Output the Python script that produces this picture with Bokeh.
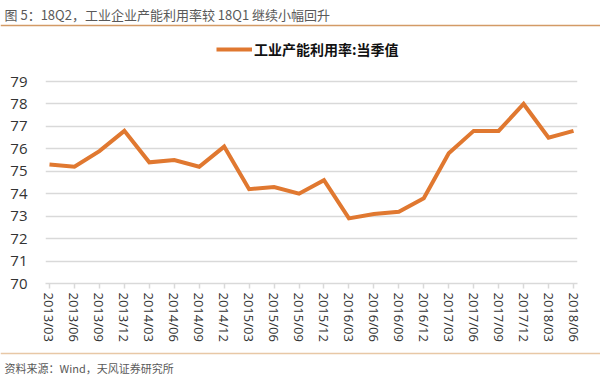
from bokeh.plotting import figure
from bokeh.layouts import column
from bokeh.models import (Label, BoxAnnotation, FixedTicker, Legend, LegendItem,
                          Range1d)
from bokeh.embed import file_html
from bokeh.resources import INLINE

# ---- data ----
quarters = ["2013/03", "2013/06", "2013/09", "2013/12",
            "2014/03", "2014/06", "2014/09", "2014/12",
            "2015/03", "2015/06", "2015/09", "2015/12",
            "2016/03", "2016/06", "2016/09", "2016/12",
            "2017/03", "2017/06", "2017/09", "2017/12",
            "2018/03", "2018/06"]
utilization = [75.3, 75.2, 75.9, 76.8,
               75.4, 75.5, 75.2, 76.1,
               74.2, 74.3, 74.0, 74.6,
               72.9, 73.1, 73.2, 73.8,
               75.8, 76.8, 76.8, 78.0,
               76.5, 76.8]
y_ticks = [70, 71, 72, 73, 74, 75, 76, 77, 78, 79]
series_name = "工业产能利用率:当季值"
title_text = "图 5：18Q2，工业企业产能利用率较 18Q1 继续小幅回升"
source_text = "资料来源：Wind，天风证券研究所"

idx = list(range(len(quarters)))

W = 600
ORANGE = "#E07830"
CJK = "Noto Sans CJK SC"
TEXT_GREY = "#595959"


def banner(height):
    f = figure(width=W, height=height, output_backend="svg", toolbar_location=None,
               x_axis_type=None, y_axis_type=None,
               x_range=Range1d(0, W), y_range=Range1d(0, height),
               min_border=0, min_border_left=0, min_border_right=0,
               min_border_top=0, min_border_bottom=0, frame_align=False,
               background_fill_color="white", border_fill_color="white")
    f.outline_line_color = None
    return f


def hline(f, height, y_from_top, color):
    f.add_layout(BoxAnnotation(left=0, right=W,
                               top=height - y_from_top + 0.75,
                               bottom=height - y_from_top - 0.75,
                               left_units="screen", right_units="screen",
                               top_units="screen", bottom_units="screen",
                               fill_color=color, fill_alpha=1, line_color=None))


# ---- header (page y 0..32) ----
HH = 32
header = banner(HH)
header.add_layout(Label(x=4, y=HH - 14, x_units="screen", y_units="screen",
                        text=title_text, text_font=CJK, text_font_size="13px",
                        text_color=TEXT_GREY, text_baseline="middle"))
hline(header, HH, 25, "#D39A66")

# ---- main chart (page y 32..346) ----
TOP, BOT = 32, 346
FL, FR, FT, FB = 45, 577, 35, 283   # frame edges in page pixels
Y79, Y70 = 81, 283                   # page y of the 79 and 70 gridlines
y_top = 79 + (Y79 - FT) * 9 / (Y70 - Y79)
p = figure(width=W, height=BOT - TOP, output_backend="svg", toolbar_location=None,
           x_range=Range1d(-0.16, len(quarters) - 1 + 0.16),
           y_range=Range1d(70, y_top),
           min_border_left=FL, min_border_right=W - FR,
           min_border_top=FT - TOP, min_border_bottom=BOT - FB,
           frame_align=False,
           background_fill_color="white", border_fill_color="white")
p.outline_line_color = None

r = p.line(idx, utilization, line_color=ORANGE, line_width=4, line_join="miter")

p.xaxis.ticker = FixedTicker(ticks=idx)
p.xaxis.major_label_overrides = {i: q for i, q in enumerate(quarters)}
p.xaxis.major_label_orientation = "vertical"
p.xaxis.axis_line_color = "#D9D9D9"
p.xaxis.axis_line_width = 1.5
p.xaxis.major_tick_line_color = "#D9D9D9"
p.xaxis.major_tick_line_width = 1.5
p.xaxis.major_tick_in = 0
p.xaxis.major_tick_out = 5
p.xaxis.minor_tick_line_color = None
p.xaxis.major_label_standoff = 4
p.xaxis.major_label_text_font = "Open Sans"
p.xaxis.major_label_text_font_size = "13px"
p.xaxis.major_label_text_color = "#333333"

p.yaxis.ticker = FixedTicker(ticks=y_ticks)
p.yaxis.axis_line_color = None
p.yaxis.major_tick_line_color = None
p.yaxis.minor_tick_line_color = None
p.yaxis.major_label_standoff = 12
p.yaxis.major_label_text_font = "Open Sans"
p.yaxis.major_label_text_font_size = "15px"
p.yaxis.major_label_text_color = "#333333"

p.xgrid.grid_line_color = None
p.ygrid.grid_line_color = "#D9D9D9"
p.ygrid.grid_line_width = 1.5
p.ygrid.ticker = FixedTicker(ticks=y_ticks)

# legend sits inside the (extended) frame; location = bottom-left from frame bottom-left
legend = Legend(items=[LegendItem(label=series_name, renderers=[r])],
                location=(216 - FL, FB - 59), orientation="horizontal",
                padding=0, margin=0, spacing=0,
                glyph_width=36, glyph_height=14, label_height=20, label_standoff=2,
                label_text_font=CJK, label_text_font_size="14px",
                label_text_font_style="bold", label_text_color="#111111",
                border_line_color=None, background_fill_alpha=0)
p.add_layout(legend, "center")

# ---- footer (page y 346..379) ----
FH = 379 - BOT
footer = banner(FH)
hline(footer, FH, 353 - BOT, "#E8C8A6")
footer.add_layout(Label(x=4, y=FH - (367 - BOT), x_units="screen", y_units="screen",
                        text=source_text, text_font=CJK, text_font_size="11px",
                        text_color=TEXT_GREY, text_baseline="middle"))

page = column(header, p, footer, spacing=0)
open("out.html", "w").write(file_html(page, INLINE))
